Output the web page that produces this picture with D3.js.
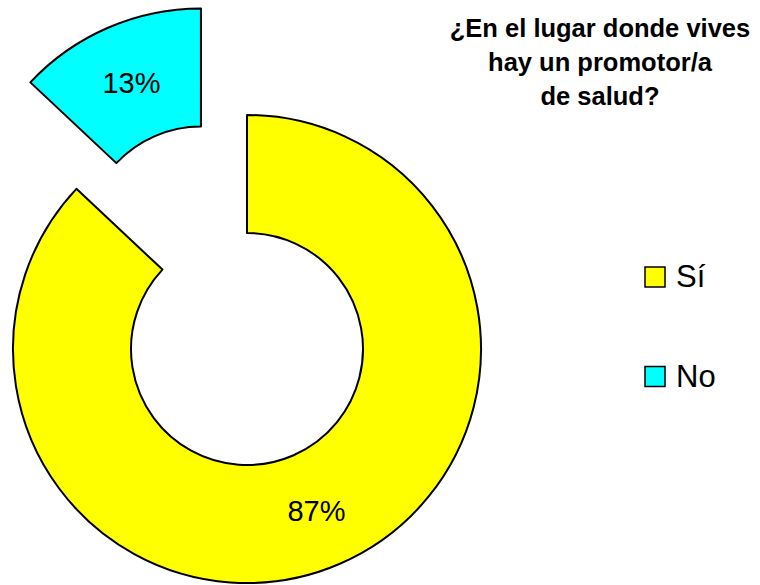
<!DOCTYPE html>
<html>
<head>
<meta charset="utf-8">
<script src="https://cdn.jsdelivr.net/npm/d3@7"></script>
<style>
  body { margin: 0; background: #fff; }
</style>
</head>
<body>
<div id="graph"></div>
<script>
// data
var categories = ["Sí", "No"];
var values = [87, 13];
var colors = ["#FFFF00", "#00FFFF"];
var titleLines = ["¿En el lugar donde vives", "hay un promotor/a", "de salud?"];

var width = 760, height = 585;
var cx = 247, cy = 349,
    outerR = 234, innerR = 116,
    explode = [0, 116]; // how far each slice is pulled out

var svg = d3.select('#graph').html('')
    .append("svg")
    .attr("width", width)
    .attr("height", height);

var data = categories.map(function (c, i) {
    return {name: c, value: values[i], color: colors[i], explode: explode[i]};
});

var pie = d3.pie()
    .sort(null)
    .value(function (d) { return d.value; });

var arc = d3.arc()
    .innerRadius(innerR)
    .outerRadius(outerR);

var g = svg.append("g")
    .attr("transform", "translate(" + cx + "," + cy + ")");

function offset(d) {
    var a = (d.startAngle + d.endAngle) / 2;
    return [Math.sin(a) * d.data.explode, -Math.cos(a) * d.data.explode];
}

var slices = g.selectAll("g.slice")
    .data(pie(data))
    .enter().append("g")
    .attr("class", "slice")
    .attr("transform", function (d) {
        var o = offset(d);
        return "translate(" + o[0] + "," + o[1] + ")";
    });

slices.append("path")
    .attr("d", arc)
    .attr("fill", function (d) { return d.data.color; })
    .attr("stroke", "#000")
    .attr("stroke-width", 2)
    .attr("stroke-linejoin", "round");

var total = d3.sum(values);
slices.append("text")
    .attr("transform", function (d) {
        var c = arc.centroid(d);
        return "translate(" + c[0] + "," + (c[1] + 11) + ")";
    })
    .attr("text-anchor", "middle")
    .style("font-family", "'Liberation Sans', Arial, sans-serif")
    .style("font-size", "29px")
    .attr("fill", "#000")
    .text(function (d) { return Math.round(d.data.value / total * 100) + "%"; });

// title
svg.append("text")
    .attr("text-anchor", "middle")
    .style("font-family", "'Liberation Sans', Arial, sans-serif")
    .style("font-weight", "bold")
    .style("font-size", "25.5px")
    .selectAll("tspan")
    .data(titleLines)
    .enter().append("tspan")
    .attr("x", 600)
    .attr("y", function (d, i) { return 37 + i * 34; })
    .text(function (d) { return d; });

// legend
var legend = svg.selectAll("g.legend")
    .data(data)
    .enter().append("g")
    .attr("class", "legend")
    .attr("transform", function (d, i) { return "translate(645," + (267 + i * 99.5) + ")"; });

legend.append("rect")
    .attr("width", 20)
    .attr("height", 20)
    .attr("fill", function (d) { return d.color; })
    .attr("stroke", "#000")
    .attr("stroke-width", 1.5);

legend.append("text")
    .attr("x", 31)
    .attr("y", 20)
    .style("font-family", "'Liberation Sans', Arial, sans-serif")
    .style("font-size", "31px")
    .attr("fill", "#000")
    .text(function (d) { return d.name; });
</script>
</body>
</html>
